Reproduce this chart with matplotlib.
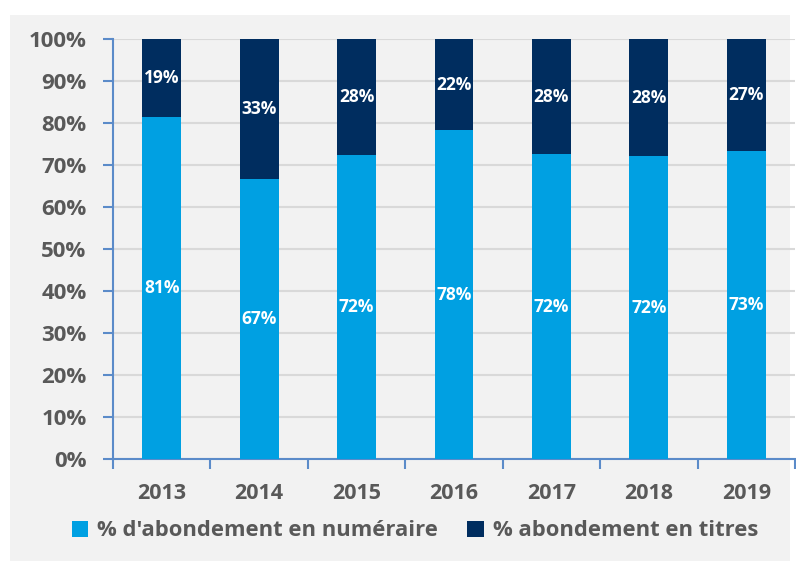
import matplotlib
matplotlib.use("Agg")
import matplotlib.pyplot as plt
from matplotlib.patches import Rectangle
import numpy as np

years = ["2013", "2014", "2015", "2016", "2017", "2018", "2019"]
numeraire = [81.4, 66.7, 72.4, 78.3, 72.6, 72.1, 73.3]
numeraire_labels = ["81%", "67%", "72%", "78%", "72%", "72%", "73%"]
titres_labels = ["19%", "33%", "28%", "22%", "28%", "28%", "27%"]
titres = [100 - v for v in numeraire]
series_names = ["% d'abondement en numéraire", "% abondement en titres"]
yticks = list(range(0, 101, 10))

plt.rcParams['font.family'] = ['Open Sans', 'DejaVu Sans']
light = "#00A0E2"
dark = "#002D5F"
txt = "#595959"
axcol = "#5B8BC9"

W, H = 796, 561
fig = plt.figure(figsize=(W/100, H/100), dpi=100, facecolor="white")
fig.patches.append(Rectangle((10/W, 0), 780/W, (H-15)/H, transform=fig.transFigure,
                             facecolor="#F2F2F2", edgecolor="none", zorder=-5))
ax = fig.add_axes([113/W, 1-459/H, (795-113)/W, (459-39)/H])
ax.set_facecolor("none")

x = np.arange(len(years))
bw = 0.40
b1 = ax.bar(x, numeraire, bw, color=light, zorder=3, label=series_names[0])
b2 = ax.bar(x, titres, bw, bottom=numeraire, color=dark, zorder=3, label=series_names[1])

for i in range(len(years)):
    ax.text(x[i], numeraire[i]/2, numeraire_labels[i], ha="center", va="center",
            color="white", fontsize=12.5, fontweight="bold", zorder=4)
    ax.text(x[i], numeraire[i] + titres[i]/2, titres_labels[i], ha="center", va="center",
            color="white", fontsize=12.5, fontweight="bold", zorder=4)

ax.set_xlim(-0.5, len(years)-0.5)
ax.set_ylim(0, 100)
ax.set_yticks(yticks)
ax.set_yticklabels([f"{v}%" for v in yticks])
ax.yaxis.grid(True, color="#D9D9D9", linewidth=1.5, zorder=1)
ax.set_axisbelow(True)

for s in ["top", "right"]:
    ax.spines[s].set_visible(False)
for s in ["left", "bottom"]:
    ax.spines[s].set_color(axcol)
    ax.spines[s].set_linewidth(1.5)

ax.set_xticks(x)
ax.set_xticklabels(years)
ax.tick_params(axis="x", which="major", length=0, pad=17, labelsize=15.5, labelcolor=txt)
ax.set_xticks(np.arange(-0.5, len(years)), minor=True)
ax.tick_params(axis="x", which="minor", length=7, width=1.5, color=axcol, direction="out")
ax.tick_params(axis="y", length=7, width=1.5, color=axcol, direction="out", pad=12,
               labelsize=16, labelcolor=txt)
for lab in ax.get_xticklabels() + ax.get_yticklabels():
    lab.set_fontweight("bold")

leg = fig.legend(handles=[b1, b2], labels=series_names, loc="center",
                 bbox_to_anchor=(0.521, 1-531/H), ncol=2, frameon=False,
                 handlelength=0.75, handleheight=0.75, handletextpad=0.4,
                 columnspacing=1.35, prop={"size": 15.8, "weight": "bold"})
for t in leg.get_texts():
    t.set_color(txt)

fig.savefig("out.png", dpi=100, facecolor=fig.get_facecolor())
